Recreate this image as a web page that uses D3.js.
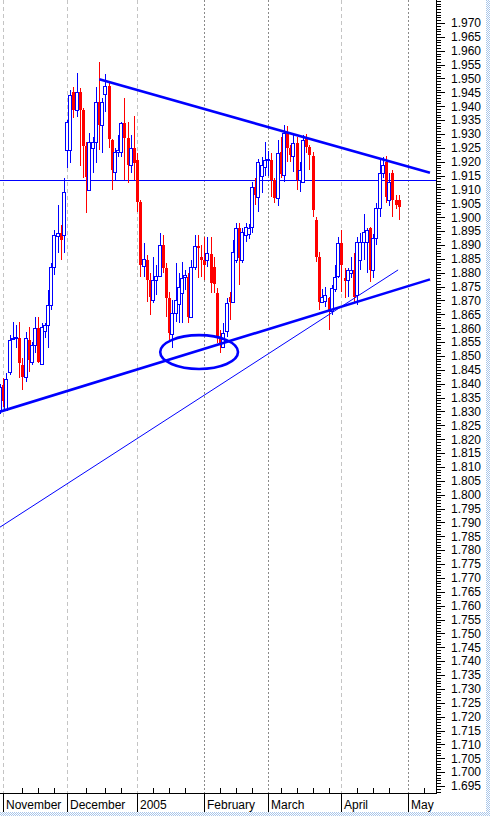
<!DOCTYPE html>
<html><head><meta charset="utf-8">
<script src="https://cdn.jsdelivr.net/npm/d3@7"></script>
<style>html,body{margin:0;padding:0;background:#fff;overflow:hidden}svg{display:block}</style>
</head><body>
<script>
// ---- Data (daily OHLC, index 0 = last trading days of October 2004) ----
const open  = [1.8305,1.8395,1.8305,1.8443,1.8563,1.8566,1.8564,1.8467,1.8425,1.8557,
               1.8479,1.8539,1.8600,1.8473,1.8588,1.8611,1.8684,1.8822,1.8930,1.8942,
               1.8936,1.9242,1.9242,1.9452,1.9386,1.9452,1.9386,1.9257,1.9098,1.9250,
               1.9272,1.9416,1.9332,1.9445,1.9474,1.9278,1.9164,1.9236,1.9236,1.9339,
               1.9284,1.9188,1.9248,1.9206,1.9056,1.8822,1.8846,1.8774,1.8702,1.8774,
               1.8789,1.8900,1.8816,1.8708,1.8579,1.8654,1.8690,1.8726,1.8786,1.8786,
               1.8642,1.8822,1.8896,1.8858,1.8846,1.8846,1.8867,1.8822,1.8726,1.8570,
               1.8534,1.8588,1.8714,1.8696,1.8846,1.8960,1.8846,1.8936,1.8940,1.8966,
               1.9110,1.9074,1.9150,1.9180,1.9206,1.9206,1.9134,1.9068,1.9236,1.9152,
               1.9302,1.9248,1.9218,1.9266,1.9134,1.9128,1.9290,1.9254,1.9220,1.8990,
               1.8858,1.8696,1.8700,1.8708,1.8660,1.8744,1.8786,1.8906,1.8780,1.8774,
               1.8798,1.8810,1.8720,1.8846,1.8912,1.8912,1.8960,1.8810,1.8924,1.9032,
               1.9158,1.9200,1.9062,1.9158,1.9062,1.9062];
const high  = [1.8400,1.8420,1.8439,1.8575,1.8623,1.8612,1.8623,1.8493,1.8587,1.8605,
               1.8551,1.8641,1.8641,1.8617,1.8620,1.8738,1.8834,1.8954,1.9044,1.8972,
               1.9140,1.9350,1.9459,1.9470,1.9519,1.9465,1.9393,1.9272,1.9302,1.9290,
               1.9470,1.9561,1.9428,1.9516,1.9490,1.9282,1.9248,1.9296,1.9344,1.9428,
               1.9344,1.9296,1.9364,1.9230,1.9062,1.8906,1.8864,1.8798,1.8858,1.8828,
               1.8942,1.8936,1.8834,1.8732,1.8702,1.8834,1.8800,1.8840,1.8810,1.8798,
               1.8846,1.8936,1.8936,1.8900,1.8930,1.8930,1.8930,1.8858,1.8744,1.8593,
               1.8618,1.8708,1.8732,1.8918,1.8978,1.8978,1.8960,1.8978,1.8975,1.9128,
               1.9140,1.9210,1.9218,1.9272,1.9240,1.9230,1.9140,1.9278,1.9290,1.9332,
               1.9328,1.9260,1.9296,1.9290,1.9200,1.9296,1.9300,1.9262,1.9236,1.9000,
               1.8876,1.8740,1.8750,1.8714,1.8756,1.8828,1.8930,1.8954,1.8816,1.8816,
               1.8858,1.8870,1.8930,1.8942,1.9012,1.8960,1.8966,1.8940,1.9050,1.9212,
               1.9218,1.9220,1.9160,1.9170,1.9080,1.9080];
const low   = [1.8290,1.8315,1.8300,1.8431,1.8557,1.8527,1.8420,1.8377,1.8407,1.8443,
               1.8467,1.8509,1.8473,1.8470,1.8563,1.8527,1.8666,1.8792,1.8870,1.8846,
               1.8870,1.9176,1.9194,1.9357,1.9362,1.9185,1.9140,1.9014,1.9098,1.9160,
               1.9194,1.9242,1.9230,1.9380,1.9250,1.9098,1.9134,1.9218,1.9218,1.9134,
               1.9122,1.9158,1.9134,1.9020,1.8786,1.8786,1.8695,1.8648,1.8690,1.8720,
               1.8786,1.8798,1.8642,1.8557,1.8527,1.8624,1.8618,1.8618,1.8738,1.8618,
               1.8636,1.8810,1.8780,1.8786,1.8774,1.8822,1.8728,1.8726,1.8546,1.8509,
               1.8527,1.8570,1.8630,1.8690,1.8834,1.8756,1.8834,1.8912,1.8920,1.8942,
               1.9044,1.9020,1.9086,1.9150,1.9150,1.9074,1.9050,1.9040,1.9140,1.9128,
               1.9200,1.9200,1.9164,1.9098,1.9090,1.9122,1.9230,1.9170,1.9000,1.8840,
               1.8666,1.8690,1.8678,1.8594,1.8648,1.8732,1.8780,1.8732,1.8708,1.8714,
               1.8780,1.8696,1.8684,1.8810,1.8846,1.8798,1.8768,1.8780,1.8900,1.9000,
               1.9140,1.9050,1.9040,1.9002,1.9030,1.8990];
const close = [1.8389,1.8339,1.8417,1.8557,1.8566,1.8570,1.8474,1.8425,1.8564,1.8485,
               1.8539,1.8600,1.8479,1.8605,1.8611,1.8684,1.8822,1.8936,1.8942,1.8918,
               1.9092,1.9344,1.9440,1.9386,1.9452,1.9386,1.9257,1.9146,1.9272,1.9272,
               1.9416,1.9332,1.9416,1.9474,1.9284,1.9170,1.9236,1.9242,1.9339,1.9284,
               1.9188,1.9248,1.9194,1.9056,1.8828,1.8848,1.8774,1.8714,1.8774,1.8789,
               1.8900,1.8816,1.8708,1.8582,1.8654,1.8702,1.8750,1.8780,1.8792,1.8642,
               1.8822,1.8896,1.8888,1.8846,1.8828,1.8870,1.8762,1.8762,1.8570,1.8546,
               1.8584,1.8690,1.8696,1.8876,1.8960,1.8852,1.8948,1.8966,1.8960,1.9110,
               1.9080,1.9200,1.9188,1.9206,1.9210,1.9134,1.9068,1.9230,1.9158,1.9302,
               1.9248,1.9224,1.9266,1.9134,1.9170,1.9278,1.9254,1.9224,1.9026,1.8858,
               1.8696,1.8714,1.8720,1.8666,1.8744,1.8786,1.8906,1.8828,1.8768,1.8810,
               1.8810,1.8714,1.8912,1.8912,1.8948,1.8954,1.8810,1.8924,1.9032,1.9158,
               1.9188,1.9074,1.9128,1.9062,1.9044,1.9038];

const monthStarts = [1, 21, 43, 64, 84, 107, 128];
const monthLabels = ["November", "December", "2005", "February", "March", "April", "May"];
const weekTicks   = [7, 12, 17, 27, 33, 38, 48, 53, 58, 69, 74, 79, 88, 93, 98, 103, 112, 117, 122, 133];
const priceLabels = d3.range(1.695, 1.9701, 0.005);
const minorTicks  = d3.range(1.693, 1.9785, 0.001);

// annotations (trading-day index, price)
const upperTrend = [[31.1, 1.9497], [134.8, 1.9160]];
const lowerTrend = [[-0.03, 1.8299], [134.8, 1.8776]];
const thinTrend  = [[-0.03, 1.7883], [124.8, 1.8810]];
const hLevel = 1.9134;
const ellipseCenter = [62.4, 1.8514];
const ellipseRadius = [12.2, 0.0061];

// ---- Layout ----
const W = 490, H = 816;
const plotRight = 436, plotBottom = 793;
const BLUE = "#0000ff", RED = "#ff0000";

const x = d3.scaleLinear().domain([0, 128]).range([0.11, 408.3]);
const y = d3.scaleLinear().domain([1.970, 1.695]).range([23, 786]);

const svg = d3.select("body").append("svg").attr("width", W).attr("height", H)
  .style("font-family", "'Liberation Sans', Arial, sans-serif");

const defs = svg.append("defs");
const pat = defs.append("pattern").attr("id", "dots").attr("width", 2).attr("height", 2)
  .attr("patternUnits", "userSpaceOnUse");
pat.append("rect").attr("width", 2).attr("height", 2).attr("fill", "#ffffff");
pat.append("rect").attr("x", 0).attr("y", 0).attr("width", 1).attr("height", 1).attr("fill", "#a9c6ea");
pat.append("rect").attr("x", 1).attr("y", 1).attr("width", 1).attr("height", 1).attr("fill", "#a9c6ea");
defs.append("clipPath").attr("id", "plotClip").append("rect")
  .attr("x", 0).attr("y", 0).attr("width", plotRight).attr("height", plotBottom);

svg.append("rect").attr("width", W).attr("height", H).attr("fill", "#fff");
svg.append("rect").attr("x", 0).attr("y", 812).attr("width", W).attr("height", H - 812).attr("fill", "url(#dots)");
svg.append("rect").attr("x", 486).attr("y", 0).attr("width", W - 486).attr("height", H).attr("fill", "url(#dots)");

const plot = svg.append("g").attr("clip-path", "url(#plotClip)");

// month grid lines
const darkMonths = new Set(["February", "March", "May"]);
plot.selectAll("line.grid").data(monthStarts).join("line")
  .attr("class", "grid")
  .attr("x1", d => Math.round(x(d)) + 0.5).attr("x2", d => Math.round(x(d)) + 0.5)
  .attr("y1", 0).attr("y2", plotBottom)
  .attr("stroke", (d, i) => darkMonths.has(monthLabels[i]) ? "#8a8a8a" : "#c4c4c4")
  .attr("stroke-dasharray", (d, i) => darkMonths.has(monthLabels[i]) ? "2,2" : "4,3")
  .attr("stroke-width", 1);

// horizontal level
plot.append("line")
  .attr("x1", 0).attr("x2", plotRight)
  .attr("y1", Math.round(y(hLevel)) + 0.5).attr("y2", Math.round(y(hLevel)) + 0.5)
  .attr("stroke", BLUE).attr("stroke-width", 1);

// candles
const bars = d3.range(open.length).map(i => ({i, o: open[i], h: high[i], l: low[i], c: close[i]}));
const cg = plot.append("g").attr("shape-rendering", "crispEdges");
bars.forEach(b => {
  const cx = Math.round(x(b.i));
  const up = b.c >= b.o;
  const col = up ? BLUE : RED;
  const yTop = y(Math.max(b.o, b.c)), yBot = y(Math.min(b.o, b.c));
  cg.append("line").attr("x1", cx + 0.5).attr("x2", cx + 0.5)
    .attr("y1", y(b.h)).attr("y2", y(b.l)).attr("stroke", col).attr("stroke-width", 1);
  if (up) {
    cg.append("rect").attr("x", cx - 1.5).attr("width", 3)
      .attr("y", Math.round(yTop) + 0.5).attr("height", Math.max(1, Math.round(yBot - yTop)))
      .attr("fill", "#fff").attr("stroke", col).attr("stroke-width", 1);
  } else {
    cg.append("rect").attr("x", cx - 1).attr("width", 3)
      .attr("y", Math.round(yTop)).attr("height", Math.max(1, Math.round(yBot - yTop)))
      .attr("fill", col);
  }
});

// trend lines
const line = d3.line().x(d => x(d[0])).y(d => y(d[1]));
plot.append("path").attr("d", line(upperTrend)).attr("fill", "none").attr("stroke", BLUE).attr("stroke-width", 2.6);
plot.append("path").attr("d", line(lowerTrend)).attr("fill", "none").attr("stroke", BLUE).attr("stroke-width", 2.6);
plot.append("path").attr("d", line(thinTrend)).attr("fill", "none").attr("stroke", BLUE).attr("stroke-width", 1);
plot.append("ellipse")
  .attr("cx", x(ellipseCenter[0])).attr("cy", y(ellipseCenter[1]))
  .attr("rx", x(ellipseCenter[0] + ellipseRadius[0]) - x(ellipseCenter[0]))
  .attr("ry", y(ellipseCenter[1] - ellipseRadius[1]) - y(ellipseCenter[1]))
  .attr("fill", "none").attr("stroke", BLUE).attr("stroke-width", 2.6);

// right price axis
const ax = svg.append("g").attr("shape-rendering", "crispEdges");
ax.append("line").attr("x1", plotRight + 0.5).attr("x2", plotRight + 0.5)
  .attr("y1", 0).attr("y2", plotBottom + 1).attr("stroke", "#000");
ax.selectAll("line.minor").data(minorTicks).join("line").attr("class", "minor")
  .attr("x1", plotRight).attr("x2", plotRight + 5)
  .attr("y1", d => Math.round(y(d)) + 0.5).attr("y2", d => Math.round(y(d)) + 0.5)
  .attr("stroke", "#000");
ax.selectAll("line.major").data(priceLabels).join("line").attr("class", "major")
  .attr("x1", plotRight).attr("x2", plotRight + 9)
  .attr("y1", d => Math.round(y(d)) + 0.5).attr("y2", d => Math.round(y(d)) + 0.5)
  .attr("stroke", "#000");
svg.selectAll("text.price").data(priceLabels).join("text").attr("class", "price")
  .attr("x", 451).attr("y", d => y(d)).attr("dy", "0.36em")
  .attr("font-size", 12).attr("fill", "#000")
  .text(d => d3.format(".3f")(d));

// bottom time axis
ax.append("line").attr("x1", 0).attr("x2", plotRight + 1)
  .attr("y1", plotBottom + 0.5).attr("y2", plotBottom + 0.5).attr("stroke", "#000");
ax.selectAll("line.month").data(monthStarts).join("line").attr("class", "month")
  .attr("x1", d => Math.round(x(d)) + 0.5).attr("x2", d => Math.round(x(d)) + 0.5)
  .attr("y1", plotBottom).attr("y2", 812).attr("stroke", "#000");
ax.selectAll("line.week").data(weekTicks).join("line").attr("class", "week")
  .attr("x1", d => Math.round(x(d)) + 0.5).attr("x2", d => Math.round(x(d)) + 0.5)
  .attr("y1", plotBottom - 5).attr("y2", plotBottom).attr("stroke", "#000");
svg.selectAll("text.month").data(monthStarts).join("text").attr("class", "month")
  .attr("x", d => Math.round(x(d)) + 3).attr("y", 809)
  .attr("font-size", 12).attr("fill", "#000")
  .text((d, i) => monthLabels[i]);
</script>
</body></html>
